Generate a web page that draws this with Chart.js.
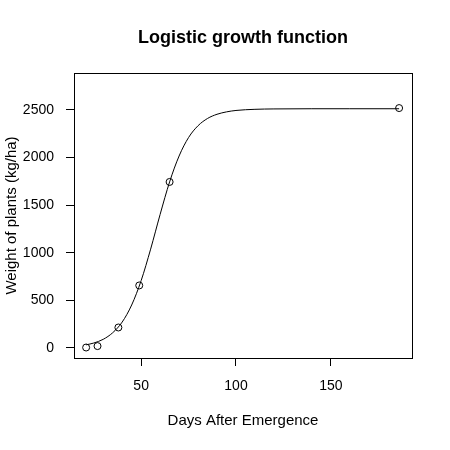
<!DOCTYPE html>
<html>
<head>
<meta charset="utf-8">
<script src="https://cdn.jsdelivr.net/npm/chart.js@4.4.0/dist/chart.umd.min.js"></script>
<style>
  html, body { margin: 0; padding: 0; background: #fff; }
  canvas { display: block; }
</style>
</head>
<body>
<canvas id="chart" width="450" height="450"></canvas>
<script>
/* ── Données ───────────────────────────────────────────── */

// observations (jours, kg/ha)
const obsDays   = [21, 27, 38, 49, 65, 186];
const obsWeight = [5, 20, 215, 656, 1742, 2517];

// courbe logistique ajustée
const curveDays   = [21, 25, 30, 35, 40, 45, 50, 55, 60, 65, 70, 75, 80, 85, 90, 95, 100, 110, 120, 140, 160, 186];
const curveWeight = [33, 52, 91, 160, 272, 451, 707, 1037, 1401, 1742, 2014, 2208, 2332, 2408, 2452, 2477, 2492, 2504, 2508, 2510, 2510, 2510];

const xTicks = [50, 100, 150];
const yTicks = [0, 500, 1000, 1500, 2000, 2500];

/* ── Graphique ─────────────────────────────────────────── */

const FONT = "'Liberation Sans', Arial, Helvetica, sans-serif";

const boxPlugin = {
    id: "box",
    afterDraw(chart) {
        const { ctx, chartArea: a } = chart;
        ctx.save();
        ctx.strokeStyle = "#000";
        ctx.lineWidth = 1;
        ctx.strokeRect(Math.round(a.left) + 0.5, Math.round(a.top) + 0.5,
                       Math.round(a.right - a.left), Math.round(a.bottom - a.top));
        // titre centré sur la zone de tracé
        ctx.fillStyle = "#000";
        ctx.font = `bold 18px ${FONT}`;
        ctx.textAlign = "center";
        ctx.textBaseline = "middle";
        ctx.fillText("Logistic growth function", (a.left + a.right) / 2, 38);
        ctx.restore();
    },
};

const toPoints = (xs, ys) => xs.map((x, i) => ({ x, y: ys[i] }));

new Chart(document.getElementById("chart"), {
    type: "scatter",
    data: {
        datasets: [
            {
                label: "fit",
                data: toPoints(curveDays, curveWeight),
                showLine: true,
                borderColor: "#000",
                borderWidth: 1,
                pointRadius: 0,
                cubicInterpolationMode: "monotone",
                fill: false,
            },
            {
                label: "obs",
                data: toPoints(obsDays, obsWeight),
                showLine: false,
                pointRadius: 3.5,
                pointBorderWidth: 1,
                pointBorderColor: "#000",
                pointBackgroundColor: "rgba(0,0,0,0)",
            },
        ],
    },
    options: {
        responsive: false,
        animation: false,
        layout: { padding: { top: 73, right: 38, left: 0, bottom: 0 } },
        plugins: {
            legend: { display: false },
            tooltip: { enabled: false },
            title: { display: false },
        },
        scales: {
            x: {
                type: "linear",
                min: 14.6,
                max: 192.8,
                afterBuildTicks: (s) => { s.ticks = xTicks.map((v) => ({ value: v })); },
                afterFit: (s) => { s.height = 92; },
                grid: { display: true, drawOnChartArea: false, drawTicks: true, tickLength: 8, color: "#000" },
                border: { display: false },
                ticks: { color: "#000", font: { family: FONT, size: 14 }, padding: 12, maxRotation: 0,
                         callback: (v) => String(v) },
                title: {
                    display: true,
                    text: "Days After Emergence",
                    color: "#000",
                    font: { family: FONT, size: 15 },
                    padding: { top: 0, bottom: 20 },
                },
            },
            y: {
                type: "linear",
                min: -105,
                max: 2885,
                afterBuildTicks: (s) => { s.ticks = yTicks.map((v) => ({ value: v })); },
                afterFit: (s) => { s.width = 74; },
                grid: { display: true, drawOnChartArea: false, drawTicks: true, tickLength: 8, color: "#000" },
                border: { display: false },
                ticks: { color: "#000", font: { family: FONT, size: 14 }, padding: 12,
                         callback: (v) => String(v) },
                title: {
                    display: true,
                    text: "Weight of plants (kg/ha)",
                    color: "#000",
                    font: { family: FONT, size: 15 },
                    padding: { top: 3, bottom: 0 },
                },
            },
        },
    },
    plugins: [boxPlugin],
});
</script>
</body>
</html>
